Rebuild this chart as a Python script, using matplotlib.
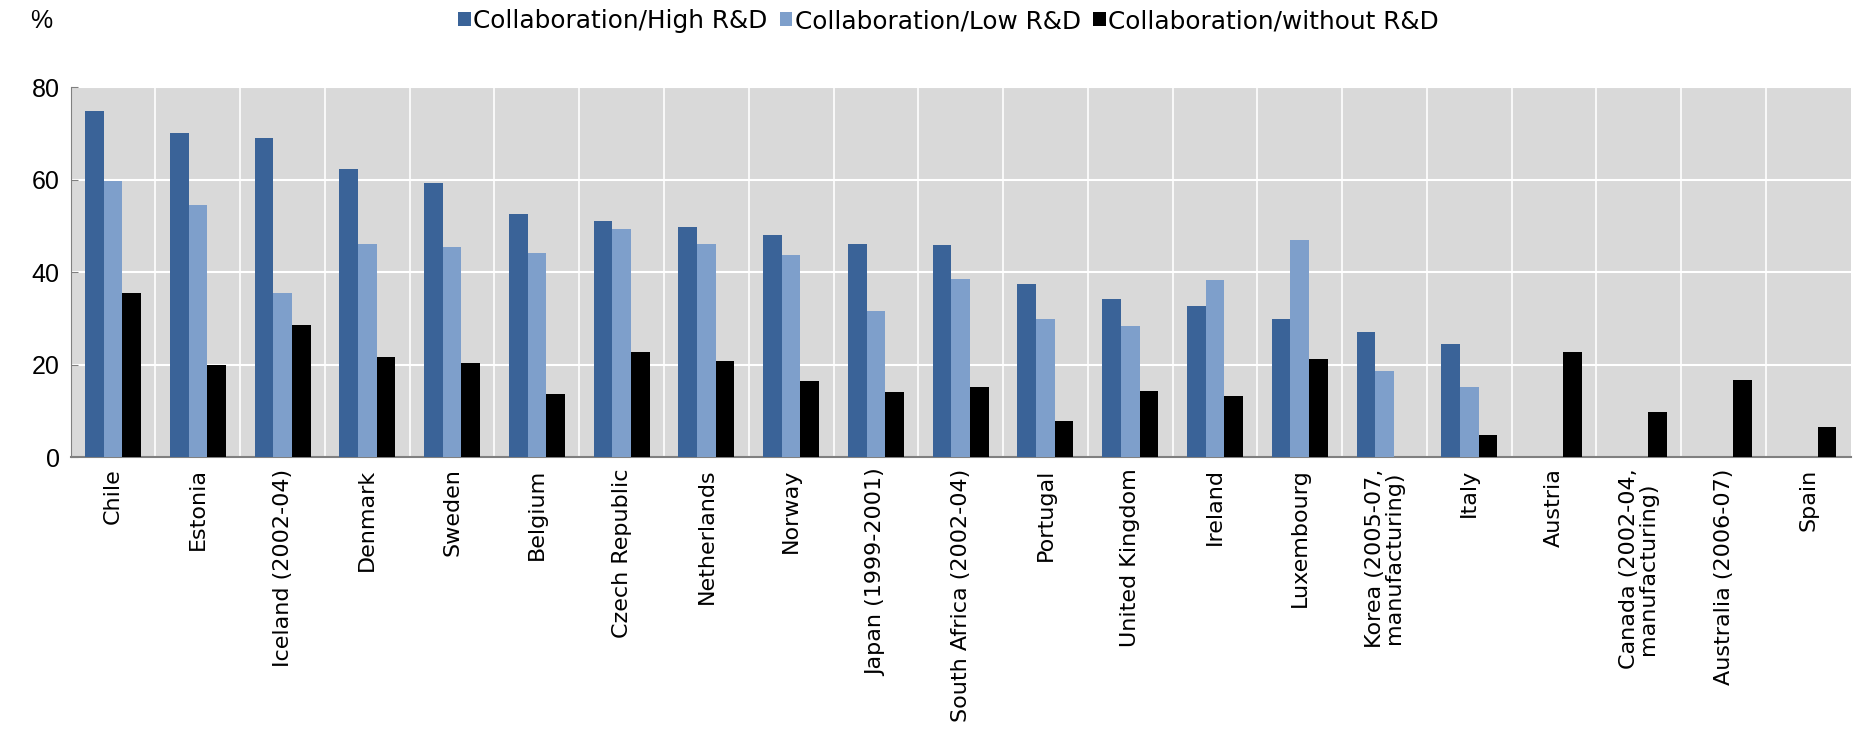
import matplotlib.pyplot as plt
import numpy as np

plt.rcParams['font.family'] = ['Liberation Sans', 'DejaVu Sans']

# Data (NaN = no bar)
countries = ['Chile', 'Estonia', 'Iceland (2002-04)', 'Denmark', 'Sweden', 'Belgium',
             'Czech Republic', 'Netherlands', 'Norway', 'Japan (1999-2001)',
             'South Africa (2002-04)', 'Portugal', 'United Kingdom', 'Ireland',
             'Luxembourg', 'Korea (2005-07,\nmanufacturing)', 'Italy', 'Austria',
             'Canada (2002-04,\nmanufacturing)', 'Australia (2006-07)', 'Spain']
high_rd = [74.8, 70.1, 68.9, 62.2, 59.3, 52.6, 51.0, 49.8, 48.1, 46.2,
           45.8, 37.5, 34.3, 32.6, 29.9, 27.1, 24.4, np.nan, np.nan, np.nan, np.nan]
low_rd = [59.7, 54.6, 35.5, 46.2, 45.5, 44.2, 49.4, 46.2, 43.8, 31.6,
          38.6, 29.9, 28.3, 38.3, 46.9, 18.7, 15.2, np.nan, np.nan, np.nan, np.nan]
without_rd = [35.5, 20.0, 28.7, 21.6, 20.4, 13.7, 22.8, 20.8, 16.4, 14.1,
              15.2, 7.8, 14.4, 13.3, 21.3, np.nan, 4.9, 22.8, 9.7, 16.8, 6.5]

series_labels = ['Collaboration/High R&D', 'Collaboration/Low R&D', 'Collaboration/without R&D']
colors = ['#3A6398', '#7E9FCB', '#000000']

fig = plt.figure(figsize=(18.6, 7.51), dpi=100)
ax = fig.add_axes([0.038, 0.391, 0.957, 0.493])
ax.set_facecolor('#D9D9D9')

x = np.arange(len(countries))
w = 0.22
for i, (vals, lab, col) in enumerate(zip([high_rd, low_rd, without_rd], series_labels, colors)):
    ax.bar(x + (i - 1) * w, vals, width=w, color=col, label=lab, zorder=3)

ax.set_xlim(-0.5, len(countries) - 0.5)
ax.set_ylim(0, 80)
ax.set_yticks([0, 20, 40, 60, 80])
ax.tick_params(axis='y', labelsize=18, length=5, direction='in', color='#808080', pad=8)

# category separators and horizontal grid
for b in np.arange(0.5, len(countries) - 0.5, 1):
    ax.axvline(b, color='white', linewidth=1.2, zorder=1)
for yv in [20, 40, 60, 80]:
    ax.axhline(yv, color='white', linewidth=1.5, zorder=1)

ax.set_xticks(x)
ax.set_xticklabels(countries, rotation=90, va='top', ha='center',
                   fontsize=16, family='DejaVu Sans', linespacing=0.95)
ax.tick_params(axis='x', length=0, pad=8)

for s in ['top', 'right']:
    ax.spines[s].set_visible(False)
ax.spines['left'].set_color('#808080')
ax.spines['bottom'].set_color('#808080')
ax.spines['bottom'].set_linewidth(1.5)

fig.text(0.022, 0.972, '%', fontsize=18, va='center', ha='center')

handles, labels = ax.get_legend_handles_labels()
fig.legend(handles, labels, loc='center', bbox_to_anchor=(0.51, 0.972), ncol=3,
           frameon=False, prop={'family': 'DejaVu Sans', 'size': 17.8},
           handlelength=0.5, handleheight=0.5, handletextpad=0.1, columnspacing=0.5)

plt.savefig('out.png', dpi=100)
